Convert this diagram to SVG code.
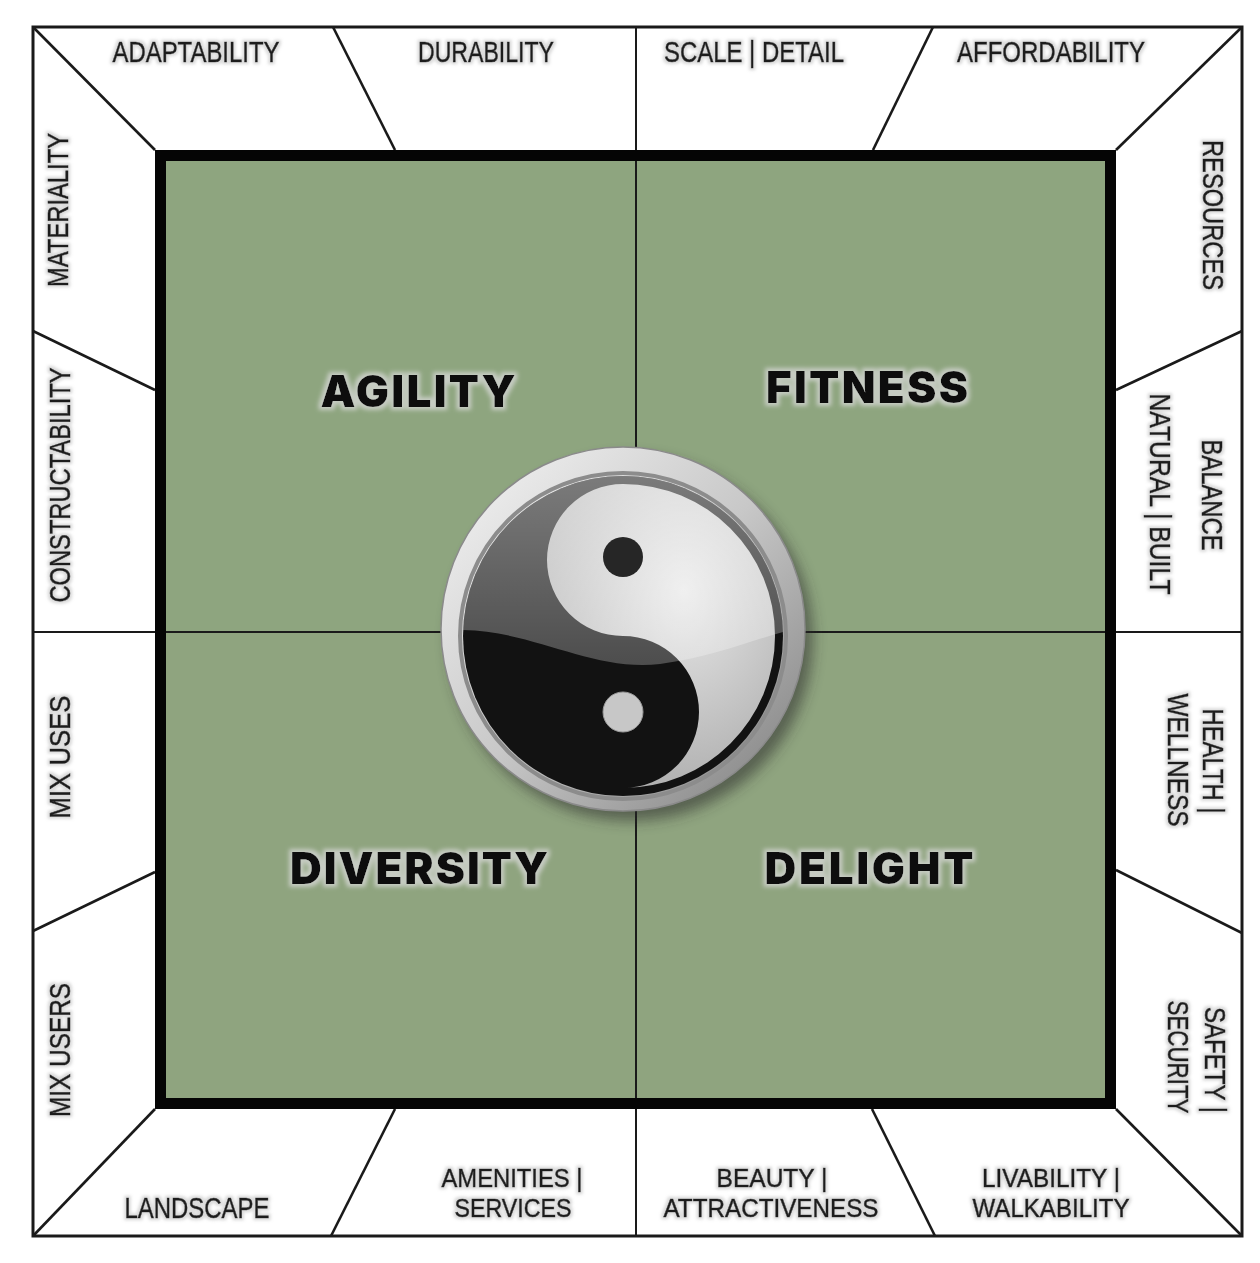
<svg xmlns="http://www.w3.org/2000/svg" width="1260" height="1263" viewBox="0 0 1260 1263">
  <style>
    .lbl { font-family: "Liberation Sans", Arial, sans-serif; font-size: 30px; fill: #1c1c1c; stroke: #1c1c1c; stroke-width: 0.6; text-anchor: middle; }
    .two { font-size: 26.5px; }
    .big { font-family: Inter, "DejaVu Sans", sans-serif; font-weight: 900; font-size: 44px; fill: #0d0d0d; text-anchor: middle; }
    .thin { stroke: #1a1a1a; stroke-width: 2.6; fill: none; }
    .mid { stroke: #1a1a1a; stroke-width: 2; fill: none; }
  </style>
  <defs>
    <filter id="halo" x="-15%" y="-40%" width="130%" height="180%">
      <feMorphology in="SourceAlpha" operator="dilate" radius="2" result="d"/>
      <feGaussianBlur in="d" stdDeviation="1.6" result="b"/>
      <feFlood flood-color="#b5b5b5" flood-opacity="0.5"/>
      <feComposite in2="b" operator="in" result="h"/>
      <feMerge><feMergeNode in="h"/><feMergeNode in="SourceGraphic"/></feMerge>
    </filter>
    <filter id="halo2" x="-10%" y="-40%" width="120%" height="180%">
      <feMorphology in="SourceAlpha" operator="dilate" radius="3" result="d"/>
      <feGaussianBlur in="d" stdDeviation="2" result="b"/>
      <feFlood flood-color="#d9d9d9" flood-opacity="0.75"/>
      <feComposite in2="b" operator="in" result="h"/>
      <feMerge><feMergeNode in="h"/><feMergeNode in="SourceGraphic"/></feMerge>
    </filter>
    <filter id="shadow" x="-20%" y="-20%" width="140%" height="140%">
      <feGaussianBlur stdDeviation="7"/>
    </filter>
    <linearGradient id="silver" x1="0" y1="0" x2="1" y2="1">
      <stop offset="0" stop-color="#f6f6f6"/>
      <stop offset="0.5" stop-color="#c8c8c8"/>
      <stop offset="1" stop-color="#7c7c7c"/>
    </linearGradient>
    <radialGradient id="whiteFill" cx="0.6" cy="0.35" r="0.7">
      <stop offset="0" stop-color="#e8e8e8"/>
      <stop offset="1" stop-color="#adadad"/>
    </radialGradient>
    <linearGradient id="gloss" x1="0" y1="0" x2="0" y2="1">
      <stop offset="0" stop-color="#ffffff" stop-opacity="0.45"/>
      <stop offset="1" stop-color="#ffffff" stop-opacity="0.25"/>
    </linearGradient>
    <clipPath id="disc"><circle cx="623" cy="636" r="160"/></clipPath>
  </defs>

  <rect width="1260" height="1263" fill="#ffffff"/>

  <g id="frame">
    <rect x="33" y="27" width="1209" height="1209" fill="#ffffff" stroke="#1a1a1a" stroke-width="3"/>
  </g>

  <g id="quadrants">
    <rect id="q-agility" x="160" y="156" width="476" height="476" fill="#8ea57f"/>
    <rect id="q-fitness" x="636" y="156" width="475" height="476" fill="#8ea57f"/>
    <rect id="q-diversity" x="160" y="632" width="476" height="472" fill="#8fa47f"/>
    <rect id="q-delight" x="636" y="632" width="475" height="472" fill="#8fa47f"/>
  </g>

  <g id="connectors">
    <line class="mid" x1="636" y1="27" x2="636" y2="1236"/>
    <line class="mid" x1="33" y1="632" x2="1242" y2="632"/>
    <line class="thin" x1="33" y1="27" x2="155" y2="150"/>
    <line class="thin" x1="1242" y1="27" x2="1116" y2="150"/>
    <line class="thin" x1="1242" y1="1236" x2="1116" y2="1109"/>
    <line class="thin" x1="33" y1="1236" x2="155" y2="1109"/>
    <line class="thin" x1="333" y1="27" x2="395" y2="150"/>
    <line class="thin" x1="933" y1="27" x2="873" y2="150"/>
    <line class="thin" x1="331" y1="1236" x2="395" y2="1109"/>
    <line class="thin" x1="935" y1="1236" x2="872" y2="1109"/>
    <line class="thin" x1="33" y1="331" x2="155" y2="390"/>
    <line class="thin" x1="33" y1="931" x2="155" y2="872"/>
    <line class="thin" x1="1242" y1="331" x2="1116" y2="390"/>
    <line class="thin" x1="1242" y1="933" x2="1116" y2="870"/>
  </g>

  <g id="inner-border">
    <rect x="160.5" y="155.5" width="950" height="948" fill="none" stroke="#050505" stroke-width="11"/>
  </g>

  <g id="yinyang">
    <circle cx="631" cy="639" r="182" fill="#2a2a2a" opacity="0.55" filter="url(#shadow)"/>
    <circle cx="623" cy="629" r="182" fill="url(#silver)" stroke="#8a8a8a" stroke-width="1.5"/>
    <circle cx="623" cy="636" r="163" fill="none" stroke="#8c8c8c" stroke-width="4"/>
    <circle cx="623" cy="636" r="160" fill="#121212"/>
    <path d="M 623 484 A 152 152 0 0 1 623 788 A 76 76 0 0 0 623 636 A 76 76 0 0 1 623 484 Z" fill="url(#whiteFill)"/>
    <circle cx="623" cy="712" r="20" fill="#c7c7c7" stroke="#999" stroke-width="1"/>
    <path clip-path="url(#disc)" d="M 455 630 C 530 628 590 672 660 664 C 720 656 760 636 800 628 L 800 470 L 455 470 Z" fill="url(#gloss)"/>
    <circle cx="623" cy="557" r="20" fill="#262626"/>
  </g>

  <g id="main-labels" filter="url(#halo2)">
    <g id="agility"><text class="big" x="418" y="407" textLength="195">AGILITY</text></g>
    <g id="fitness"><text class="big" x="867" y="403" textLength="202">FITNESS</text></g>
    <g id="diversity"><text class="big" x="419" y="884" textLength="258">DIVERSITY</text></g>
    <g id="delight"><text class="big" x="869" y="884" textLength="209">DELIGHT</text></g>
  </g>

  <g id="side-labels" filter="url(#halo)">
    <g id="adaptability"><text class="lbl" x="196" y="62" textLength="167" lengthAdjust="spacingAndGlyphs">ADAPTABILITY</text></g>
    <g id="durability"><text class="lbl" x="486" y="62" textLength="136" lengthAdjust="spacingAndGlyphs">DURABILITY</text></g>
    <g id="scale-detail"><text class="lbl" x="754" y="62" textLength="180" lengthAdjust="spacingAndGlyphs">SCALE | DETAIL</text></g>
    <g id="affordability"><text class="lbl" x="1051" y="62" textLength="188" lengthAdjust="spacingAndGlyphs">AFFORDABILITY</text></g>

    <g id="materiality" transform="translate(68,210) rotate(-90)"><text class="lbl" x="0" y="0" textLength="154" lengthAdjust="spacingAndGlyphs">MATERIALITY</text></g>
    <g id="constructability" transform="translate(70,485) rotate(-90)"><text class="lbl" x="0" y="0" textLength="235" lengthAdjust="spacingAndGlyphs">CONSTRUCTABILITY</text></g>
    <g id="mix-uses" transform="translate(70,757) rotate(-90)"><text class="lbl" x="0" y="0" textLength="123" lengthAdjust="spacingAndGlyphs">MIX USES</text></g>
    <g id="mix-users" transform="translate(70,1050) rotate(-90)"><text class="lbl" x="0" y="0" textLength="134" lengthAdjust="spacingAndGlyphs">MIX USERS</text></g>

    <g id="landscape"><text class="lbl" x="197" y="1218" textLength="145" lengthAdjust="spacingAndGlyphs">LANDSCAPE</text></g>
    <g id="amenities">
      <text class="lbl two" x="512" y="1187" textLength="141" lengthAdjust="spacingAndGlyphs">AMENITIES |</text>
      <text class="lbl two" x="513" y="1217" textLength="117" lengthAdjust="spacingAndGlyphs">SERVICES</text>
    </g>
    <g id="beauty">
      <text class="lbl two" x="772" y="1187" textLength="111" lengthAdjust="spacingAndGlyphs">BEAUTY |</text>
      <text class="lbl two" x="771" y="1217" textLength="215" lengthAdjust="spacingAndGlyphs">ATTRACTIVENESS</text>
    </g>
    <g id="livability">
      <text class="lbl two" x="1051" y="1187" textLength="138" lengthAdjust="spacingAndGlyphs">LIVABILITY |</text>
      <text class="lbl two" x="1051" y="1217" textLength="157" lengthAdjust="spacingAndGlyphs">WALKABILITY</text>
    </g>

    <g id="resources" transform="translate(1203,215) rotate(90)"><text class="lbl" x="0" y="0" textLength="150" lengthAdjust="spacingAndGlyphs">RESOURCES</text></g>
    <g id="balance">
      <text class="lbl" transform="translate(1202,495) rotate(90)" x="0" y="0" textLength="111" lengthAdjust="spacingAndGlyphs">BALANCE</text>
      <text class="lbl" transform="translate(1150,494) rotate(90)" x="0" y="0" textLength="201" lengthAdjust="spacingAndGlyphs">NATURAL | BUILT</text>
    </g>
    <g id="health">
      <text class="lbl" transform="translate(1203,761) rotate(90)" x="0" y="0" textLength="105" lengthAdjust="spacingAndGlyphs">HEALTH |</text>
      <text class="lbl" transform="translate(1168,760) rotate(90)" x="0" y="0" textLength="133" lengthAdjust="spacingAndGlyphs">WELLNESS</text>
    </g>
    <g id="safety">
      <text class="lbl" transform="translate(1205,1060) rotate(90)" x="0" y="0" textLength="106" lengthAdjust="spacingAndGlyphs">SAFETY |</text>
      <text class="lbl" transform="translate(1168,1057) rotate(90)" x="0" y="0" textLength="113" lengthAdjust="spacingAndGlyphs">SECURITY</text>
    </g>
  </g>
</svg>
